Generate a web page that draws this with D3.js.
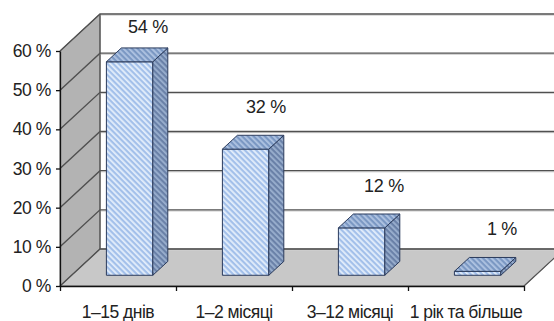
<!DOCTYPE html>
<html>
<head>
<meta charset="utf-8">
<script src="https://cdn.jsdelivr.net/npm/d3@7/dist/d3.min.js"></script>
<style>
html,body{margin:0;padding:0;background:#fff;}
svg{display:block;}
text{font-family:"Liberation Sans",Arial,sans-serif;}
</style>
</head>
<body>
<svg id="chart" width="554" height="321"></svg>
<script>
const categories = ["1–15 днів", "1–2 місяці", "3–12 місяці", "1 рік та більше"];
const values = [54.5, 32.2, 12.1, 1.0];
const valueLabels = ["54 %", "32 %", "12 %", "1 %"];
const yTicks = [0, 10, 20, 30, 40, 50, 60];

const svg = d3.select("#chart");
const X0 = 60, X1 = 524, Y0 = 286, Y1 = 51;
const DX = 40, DY = 37;       // depth offset of the back wall
const Z0 = 0.29, Z1 = 0.665;  // bar depth range (fraction of total depth)
const FONT = '"Liberation Sans",Arial,sans-serif';

const x = d3.scaleBand().domain(categories).range([X0, X1]).paddingInner(0.6).paddingOuter(0.3);
const y = d3.scaleLinear().domain([0, 60]).range([Y0, Y1]);
const xb = d3.scaleLinear().domain([0, categories.length]).range([X0, X1]);

const P = (px, v, z) => [px + z * DX, y(v) - z * DY];
const poly = pts => "M" + pts.map(p => p.join(",")).join("L") + "Z";

// patterns
const defs = svg.append("defs");
function hatch(id, base, stripe) {
  const p = defs.append("pattern").attr("id", id).attr("patternUnits", "userSpaceOnUse")
    .attr("width", 4).attr("height", 4).attr("patternTransform", "rotate(-45)");
  p.append("rect").attr("width", 4).attr("height", 4).attr("fill", base);
  p.append("rect").attr("width", 1.8).attr("height", 4).attr("fill", stripe);
}
hatch("hFront", "#a3c0ea", "#e4eefb");
hatch("hSide", "#6a81a8", "#9bb0cf");
hatch("hTop", "#7b98c3", "#b0c4e2");

// back wall
svg.append("path").attr("d", poly([P(X0, 0, 1), P(X1 + 60, 0, 1), P(X1 + 60, 60, 1), P(X0, 60, 1)]))
  .attr("fill", "#fff");
// side wall
svg.append("path").attr("d", poly([P(X0, 0, 0), P(X0, 60, 0), P(X0, 60, 1), P(X0, 0, 1)]))
  .attr("fill", "#b3b3b3").attr("stroke", "#666").attr("stroke-width", 1);
// floor
svg.append("path").attr("d", poly([P(X0, 0, 0), P(X1, 0, 0), P(X1, 0, 1), P(X0, 0, 1)]))
  .attr("fill", "#c8c8c8").attr("stroke", "#777").attr("stroke-width", 1);
svg.append("line")
  .attr("x1", P(X1, 0, 0)[0]).attr("y1", P(X1, 0, 0)[1])
  .attr("x2", P(X1, 0, 1)[0]).attr("y2", P(X1, 0, 1)[1])
  .attr("stroke", "#555").attr("stroke-width", 1.2);

// gridlines: back wall + side wall
const grid = svg.append("g");
yTicks.forEach(t => {
  const a = P(X0, t, 0), b = P(X0, t, 1), c = P(X1 + 60, t, 1);
  grid.append("line").attr("x1", b[0]).attr("y1", b[1] + 1.2).attr("x2", c[0]).attr("y2", c[1] + 1.2)
    .attr("stroke", "#cfcfcf").attr("stroke-width", 1);
  grid.append("path").attr("d", `M${a[0]},${a[1]}L${b[0]},${b[1]}L${c[0]},${c[1]}`)
    .attr("fill", "none").attr("stroke", "#505050").attr("stroke-width", 1.4);
});
svg.append("line").attr("x1", P(X0, 0, 1)[0]).attr("y1", P(X0, 0, 1)[1])
  .attr("x2", P(X0, 60, 1)[0]).attr("y2", P(X0, 60, 1)[1]).attr("stroke", "#555").attr("stroke-width", 1.2);

// bars
const bars = svg.append("g");
categories.forEach((c, i) => {
  const v = values[i];
  const xl = x(c), xr = x(c) + x.bandwidth();
  const g = bars.append("g").attr("stroke", "#2b3b5c").attr("stroke-width", 1).attr("stroke-linejoin", "round");
  g.append("path").attr("d", poly([P(xl, 0, Z0), P(xr, 0, Z0), P(xr, v, Z0), P(xl, v, Z0)])).attr("fill", "url(#hFront)");
  g.append("path").attr("d", poly([P(xr, 0, Z0), P(xr, 0, Z1), P(xr, v, Z1), P(xr, v, Z0)])).attr("fill", "url(#hSide)");
  g.append("path").attr("d", poly([P(xl, v, Z0), P(xr, v, Z0), P(xr, v, Z1), P(xl, v, Z1)])).attr("fill", "url(#hTop)");
  const top = P(x(c) + x.bandwidth() / 2, v, 1);
  svg.append("text").attr("x", top[0] - 10 + i * 2).attr("y", Math.max(top[1] - 16, 27))
    .attr("dy", "0.35em").attr("text-anchor", "middle").style("font-family", FONT)
    .attr("font-size", 18).attr("letter-spacing", "-0.3px").attr("fill", "#222").text(valueLabels[i]);
});

// y axis
const yAxis = svg.append("g").attr("transform", `translate(${X0},0)`)
  .call(d3.axisLeft(y).tickValues(yTicks).tickFormat(d => d + " %").tickSize(4).tickSizeOuter(0));
yAxis.select(".domain").attr("stroke", "#111").attr("stroke-width", 1.3);
yAxis.selectAll(".tick line").attr("stroke", "#111").attr("stroke-width", 1.3);
yAxis.selectAll(".tick text").attr("font-size", 17.5).attr("fill", "#222").attr("x", -9)
  .attr("letter-spacing", "-0.4px").style("font-family", FONT);

// x axis
const xAxis = svg.append("g").attr("transform", `translate(0,${Y0})`)
  .call(d3.axisBottom(xb).tickValues(d3.range(categories.length + 1)).tickFormat("").tickSize(5).tickSizeOuter(0));
xAxis.select(".domain").attr("stroke", "#111").attr("stroke-width", 1.3);
xAxis.selectAll(".tick line").attr("stroke", "#111").attr("stroke-width", 1.3);

svg.append("g").selectAll("text").data(categories).join("text")
  .attr("x", d => x(d) + x.bandwidth() / 2).attr("y", 317.5)
  .attr("text-anchor", "middle").style("font-family", FONT)
  .attr("font-size", 17.5).attr("letter-spacing", "-0.5px").attr("fill", "#222").text(d => d);
</script>
</body>
</html>
